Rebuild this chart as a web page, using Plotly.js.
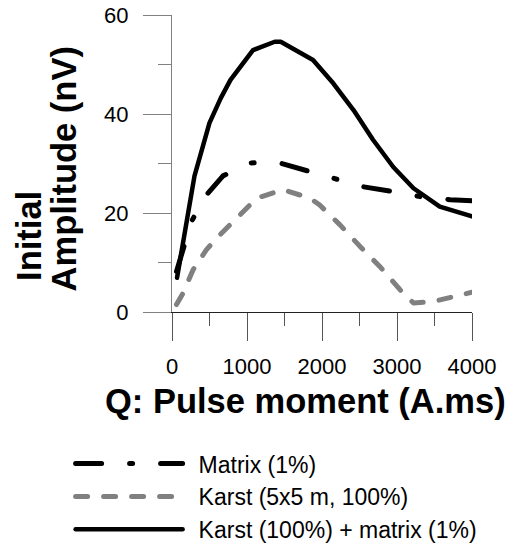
<!DOCTYPE html>
<html>
<head>
<meta charset="utf-8">
<script src="https://cdn.plot.ly/plotly-3.0.1.min.js"></script>
<style>
html, body { margin:0; padding:0; background:#fff; }
#chart { width:509px; height:544px; }
.scatterlayer path.js-line, .legend path.js-line { stroke-linecap: round; stroke-linejoin: round; }
.legend text.legendtext { transform: translate(11px, 0px); }
.legend, .legend g { clip-path: none !important; }
</style>
</head>
<body>
<div id="chart"></div>
<script>
// Matrix (1%)
const matrixQ = [60, 260, 440, 680, 1040, 1300, 1440, 1800, 2170, 2550, 2950, 3310, 3710, 4000];
const matrixA = [8.2, 18.3, 23.3, 27.5, 30.1, 30.3, 30.1, 28.6, 27.1, 25.3, 24.3, 23.3, 22.7, 22.5];
// Karst (5x5 m, 100%)
const karstQ = [60, 150, 280, 460, 620, 860, 1130, 1480, 1840, 1970, 2240, 2510, 2770, 3040, 3220, 3480, 4000];
const karstA = [1.5, 3.9, 8.5, 12.6, 15.3, 19.0, 23.0, 24.7, 23.0, 21.6, 17.6, 13.2, 9.2, 4.5, 1.8, 2.1, 4.0];
// Karst (100%) + matrix (1%)
const bothQ = [67, 130, 200, 300, 500, 650, 780, 870, 1080, 1370, 1450, 1880, 2150, 2420, 2680, 2950, 3220, 3570, 4000];
const bothA = [6.9, 12.6, 18.6, 27.5, 38.2, 43.2, 46.9, 48.6, 52.9, 54.6, 54.6, 50.9, 46.2, 40.8, 34.8, 29.3, 25.0, 21.3, 19.3];

const seriesNames = ['Matrix (1%)', 'Karst (5x5 m, 100%)', 'Karst (100%) + matrix (1%)'];
const xTickVals = [0, 1000, 2000, 3000, 4000];
const yTickVals = [0, 20, 40, 60];
const xTitle = 'Q: Pulse moment (A.ms)';
const yTitleLine1 = 'Initial';
const yTitleLine2 = 'Amplitude (nV)';

const FONT = 'Liberation Sans, Arial, Helvetica, sans-serif';

const traces = [
  { x: matrixQ, y: matrixA, name: seriesNames[0], mode: 'lines',
    line: { color: '#000000', width: 5, dash: '26px,28px,3px,28px' } },
  { x: karstQ, y: karstA, name: seriesNames[1], mode: 'lines',
    line: { color: '#808080', width: 5, dash: '12px,16px' } },
  { x: bothQ, y: bothA, name: seriesNames[2], mode: 'lines',
    line: { color: '#000000', width: 4.5 } }
];

const layout = {
  width: 509, height: 544,
  margin: { l: 172, r: 37, t: 15, b: 232, autoexpand: false },
  paper_bgcolor: '#ffffff', plot_bgcolor: '#ffffff',
  font: { family: FONT, color: '#000000', size: 22 },
  showlegend: true,
  legend: {
    x: -0.338, xanchor: 'left', y: -0.438, yanchor: 'top',
    font: { family: FONT, size: 23, color: '#000' },
    itemwidth: 107, bgcolor: 'rgba(0,0,0,0)', tracegroupgap: 0
  },
  xaxis: {
    range: [0, 4000], tickvals: xTickVals, ticktext: xTickVals.map(String),
    showgrid: false, zeroline: false,
    showline: true, linecolor: '#222222', linewidth: 1,
    ticks: 'outside', ticklen: 28, tickcolor: '#555555', tickwidth: 1,
    ticklabelstandoff: 7,
    tickfont: { family: FONT, size: 22, color: '#000' },
    minor: { dtick: 500, tick0: 0, ticks: 'outside', ticklen: 13, tickcolor: '#555555', tickwidth: 1, showgrid: false }
  },
  yaxis: {
    range: [0, 60], tickvals: yTickVals, ticktext: yTickVals.map(String),
    showgrid: false, zeroline: false,
    showline: true, linecolor: '#808080', linewidth: 1,
    ticks: 'outside', ticklen: 28, tickcolor: '#808080', tickwidth: 1,
    ticklabelstandoff: 10,
    tickfont: { family: FONT, size: 22, color: '#000' },
    minor: { dtick: 10, tick0: 0, ticks: 'outside', ticklen: 13, tickcolor: '#808080', tickwidth: 1, showgrid: false }
  },
  annotations: [
    { text: '<b>' + xTitle + '</b>', xref: 'paper', yref: 'paper', x: 0.445, y: -0.301,
      xanchor: 'center', yanchor: 'middle', showarrow: false,
      font: { family: FONT, size: 34.5, color: '#000' } },
    { text: '<b>' + yTitleLine1 + '</b>', xref: 'paper', yref: 'paper', x: -0.477, y: 0.0976,
      xanchor: 'center', yanchor: 'bottom', showarrow: false, textangle: -90,
      font: { family: FONT, size: 34.5, color: '#000' } },
    { text: '<b>' + yTitleLine2 + '</b>', xref: 'paper', yref: 'paper', x: -0.357, y: 0.064,
      xanchor: 'center', yanchor: 'bottom', showarrow: false, textangle: -90,
      font: { family: FONT, size: 34.5, color: '#000' } }
  ]
};

Plotly.newPlot('chart', traces, layout, { displayModeBar: false, staticPlot: true });
</script>
</body>
</html>
